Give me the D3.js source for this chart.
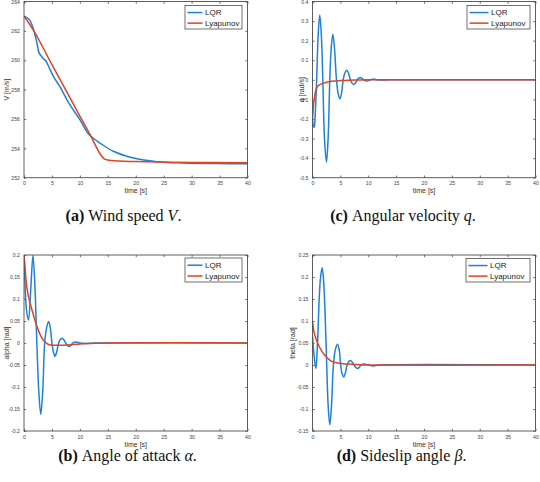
<!DOCTYPE html>
<html>
<head>
<meta charset="utf-8">
<script src="https://cdn.jsdelivr.net/npm/d3@7"></script>
<style>
html,body{margin:0;padding:0;background:#fff;}
svg{display:block;}
</style>
</head>
<body>
<svg id="chart" width="540" height="482"></svg>
<script>
// ---------- DATA ----------
const timeTicks = [0,5,10,15,20,25,30,35,40];
const seriesNames = ["LQR","Lyapunov"];

// (a) Wind speed V [m/s]
const vTicks = [252,254,256,258,260,262,264];
const vLQR = [[0,263],[0.5,262.9],[1.08,262.7],[1.7,262.1],[2.3,261.2],[2.7,260.5],[3.35,260.16],[3.95,259.93],[4.5,259.5],[5.26,258.9],[6.46,258.18],[8,257.1],[10,255.95],[11.4,255.05],[12.5,254.65],[13.6,254.36],[16,253.8],[19.6,253.34],[23.8,253.09],[28.6,253.0],[34.6,252.96],[40,252.95]];
const vLyap = [[0,263],[1,262.45],[2,261.85],[5,259.7],[8,257.6],[10,256.2],[12,254.8],[13.5,253.7],[14.3,253.3],[15,253.2],[17,253.13],[20,253.1],[30,253.04],[40,253.02]];

// (c) Angular velocity q [rad/s]
const qTicks = [-0.5,-0.4,-0.3,-0.2,-0.1,0,0.1,0.2,0.3,0.4];
const qLQR = [[0,-0.2],[0.15,-0.235],[0.3,-0.243],[0.5,-0.17],[0.75,0.0],[1.0,0.22],[1.3,0.331],[1.6,0.22],[1.85,0.0],[2.15,-0.3],[2.5,-0.421],[2.8,-0.3],[3.1,0.0],[3.35,0.16],[3.65,0.233],[3.95,0.16],[4.3,0.0],[4.6,-0.07],[4.9,-0.097],[5.2,-0.07],[5.5,0.0],[5.8,0.035],[6.15,0.049],[6.45,0.035],[6.8,0.0],[7.1,-0.017],[7.4,-0.024],[7.7,-0.017],[8.0,0.0],[8.3,0.009],[8.55,0.012],[8.85,0.008],[9.2,0.0],[9.8,-0.006],[10.4,0],[11,0.004],[11.6,0],[12.5,-0.001],[14,0],[40,0]];
const qLyap = [[0,-0.2],[0.1,-0.16],[0.2,-0.125],[0.35,-0.09],[0.5,-0.065],[0.7,-0.045],[1,-0.03],[1.5,-0.022],[2,-0.017],[3,-0.01],[4,-0.006],[5,-0.004],[6.5,-0.002],[8,-0.001],[10,0],[40,0]];

// (b) Angle of attack alpha [rad]
const aTicks = [-0.2,-0.15,-0.1,-0.05,0,0.05,0.1,0.15,0.2];
const aLQR = [[0,0.19],[0.2,0.13],[0.45,0.075],[0.8,0.052],[1.2,0.12],[1.6,0.199],[1.95,0.13],[2.3,0.0],[2.65,-0.11],[3.0,-0.162],[3.35,-0.11],[3.7,0.0],[4.05,0.035],[4.4,0.049],[4.7,0.035],[5.0,0.0],[5.25,-0.02],[5.55,-0.03],[5.85,-0.02],[6.2,0.0],[6.5,0.008],[6.8,0.011],[7.1,0.008],[7.45,0.0],[7.8,-0.006],[8.1,-0.008],[8.4,-0.005],[8.7,0.0],[9.3,0.002],[10,0],[11,-0.001],[13,0],[40,0]];
const aLyap = [[0,0.2],[0.2,0.17],[0.4,0.138],[0.7,0.112],[1,0.095],[1.5,0.072],[2,0.05],[2.5,0.031],[3,0.016],[3.5,0.006],[4,0.0],[4.5,-0.004],[5.5,-0.005],[7,-0.005],[8.5,-0.004],[10,-0.002],[12,-0.001],[15,0],[40,0]];

// (d) Sideslip angle (theta) [rad]
const thTicks = [-0.15,-0.1,-0.05,0,0.05,0.1,0.15,0.2,0.25];
const thLQR = [[0,0.065],[0.3,0.02],[0.6,-0.008],[0.9,0.05],[1.2,0.15],[1.45,0.2],[1.73,0.221],[2.0,0.19],[2.3,0.1],[2.55,0.0],[2.8,-0.09],[3.1,-0.136],[3.4,-0.095],[3.75,0.0],[4.1,0.035],[4.5,0.047],[4.8,0.033],[5.05,0.0],[5.3,-0.02],[5.6,-0.027],[5.9,-0.018],[6.2,0.0],[6.5,0.008],[6.8,0.010],[7.1,0.007],[7.45,0.0],[7.8,-0.006],[8.1,-0.008],[8.4,-0.005],[8.7,0.0],[9.3,0.002],[10,0],[10.9,-0.002],[12,0],[40,0]];
const thLyap = [[0,0.1],[0.15,0.085],[0.3,0.073],[0.7,0.057],[1.2,0.042],[1.9,0.027],[2.5,0.018],[3.1,0.011],[3.7,0.007],[4.3,0.005],[5.5,0.003],[6.7,0.002],[8,0.001],[10,0],[40,0]];

// ---------- DRAW ----------
const svg = d3.select("#chart");
const colors = ["#1f80d8","#e2431e"];
const axisColor = "#4d4d4d";
const fontSans = "'Liberation Sans', Arial, sans-serif";
const fontSerif = "'Liberation Serif', 'Times New Roman', serif";

const panels = [
  {id:"a", box:[24,1.5,247.5,177.7], yDom:[252,264], yTicks:vTicks, ylabel:"V [m/s]", ylOff:15, data:[vLQR,vLyap], leg:[185,5.5,242,29], legLine:15},
  {id:"c", box:[312.5,1.5,535.5,177.7], yDom:[-0.5,0.4], yTicks:qTicks, ylabel:"q [rad/s]", ylOff:9, data:[qLQR,qLyap], leg:[467,5.5,530,29], legLine:19},
  {id:"b", box:[24,255,247.5,431], yDom:[-0.2,0.2], yTicks:aTicks, ylabel:"alpha [rad]", ylOff:15, data:[aLQR,aLyap], leg:[185,258,242,282], legLine:15},
  {id:"d", box:[312.5,255,535.5,431], yDom:[-0.15,0.25], yTicks:thTicks, ylabel:"theta [rad]", ylOff:18, data:[thLQR,thLyap], leg:[466,258.5,530,282], legLine:19}
];

const fmt = v => d3.format("~g")(+v.toFixed(4)).replace("−","-");

panels.forEach(p => {
  const [x0,y0,x1,y1] = p.box;
  const x = d3.scaleLinear().domain([0,40]).range([x0,x1]);
  const y = d3.scaleLinear().domain(p.yDom).range([y1,y0]);
  const g = svg.append("g");

  g.append("rect").attr("x",x0).attr("y",y0).attr("width",x1-x0).attr("height",y1-y0).attr("fill","#fff");

  const clipId = "clip-"+p.id;
  svg.append("clipPath").attr("id",clipId).append("rect")
    .attr("x",x0).attr("y",y0-1).attr("width",x1-x0).attr("height",y1-y0+2);

  const styleAxis = sel => {
    sel.select(".domain").remove();
    sel.selectAll(".tick line").attr("stroke",axisColor).attr("stroke-width",0.8);
    sel.selectAll(".tick text").attr("fill","#444").attr("font-family",fontSans).attr("font-size",5.2);
  };
  g.append("g").attr("transform",`translate(0,${y1})`)
    .call(d3.axisBottom(x).tickValues(timeTicks).tickSize(-2.2).tickPadding(4).tickFormat(fmt))
    .call(styleAxis);
  g.append("g").attr("transform",`translate(0,${y0})`)
    .call(d3.axisTop(x).tickValues(timeTicks).tickSize(-2.2).tickFormat(""))
    .call(styleAxis);
  g.append("g").attr("transform",`translate(${x0},0)`)
    .call(d3.axisLeft(y).tickValues(p.yTicks).tickSize(-2.2).tickPadding(4).tickFormat(fmt))
    .call(styleAxis);
  g.append("g").attr("transform",`translate(${x1},0)`)
    .call(d3.axisRight(y).tickValues(p.yTicks).tickSize(-2.2).tickFormat(""))
    .call(styleAxis);

  const line = d3.line().x(d=>x(d[0])).y(d=>y(d[1])).curve(d3.curveCatmullRom.alpha(0.5));
  p.data.forEach((ser,i) => {
    g.append("path").attr("d",line(ser)).attr("fill","none")
      .attr("stroke",colors[i]).attr("stroke-width",1.5)
      .attr("stroke-linejoin","round")
      .attr("clip-path",`url(#${clipId})`);
  });

  g.append("rect").attr("x",x0).attr("y",y0).attr("width",x1-x0).attr("height",y1-y0)
    .attr("fill","none").attr("stroke",axisColor).attr("stroke-width",0.9);

  g.append("text").attr("x",(x0+x1)/2).attr("y",y1+15.5).attr("text-anchor","middle")
    .attr("font-family",fontSans).attr("font-size",7).attr("fill","#333").text("time [s]");
  g.append("text").attr("transform",`translate(${x0-p.ylOff},${(y0+y1)/2}) rotate(-90)`)
    .attr("text-anchor","middle").attr("font-family",fontSans).attr("font-size",7)
    .attr("fill","#333").text(p.ylabel);

  const [lx0,ly0,lx1,ly1] = p.leg;
  g.append("rect").attr("x",lx0).attr("y",ly0).attr("width",lx1-lx0).attr("height",ly1-ly0)
    .attr("fill","#fff").attr("stroke",axisColor).attr("stroke-width",0.8);
  seriesNames.forEach((nm,i) => {
    const yy = ly0 + (ly1-ly0)*(i===0?0.3:0.75);
    g.append("line").attr("x1",lx0+2.5).attr("x2",lx0+2.5+p.legLine).attr("y1",yy).attr("y2",yy)
      .attr("stroke",colors[i]).attr("stroke-width",1.5);
    g.append("text").attr("x",lx0+5+p.legLine).attr("y",yy+2.8)
      .attr("font-family",fontSans).attr("font-size",8).attr("fill","#222").text(nm);
  });
});

const captions = [
  {x:123.5, y:221, lab:"(a)", pre:"Wind speed ", it:"V", post:"."},
  {x:403,   y:221, lab:"(c)", pre:"Angular velocity ", it:"q", post:"."},
  {x:127.5, y:461, lab:"(b)", pre:"Angle of attack ", it:"α", post:"."},
  {x:401.5, y:461, lab:"(d)", pre:"Sideslip angle ", it:"β", post:"."}
];
captions.forEach(c => {
  const t = svg.append("text").attr("x",c.x).attr("y",c.y).attr("text-anchor","middle")
    .attr("font-family",fontSerif).attr("font-size",16).attr("fill","#111");
  t.append("tspan").attr("font-weight","bold").text(c.lab+" ");
  t.append("tspan").text(" "+c.pre);
  t.append("tspan").attr("font-style","italic").text(c.it);
  t.append("tspan").text(c.post);
});
</script>
</body>
</html>
